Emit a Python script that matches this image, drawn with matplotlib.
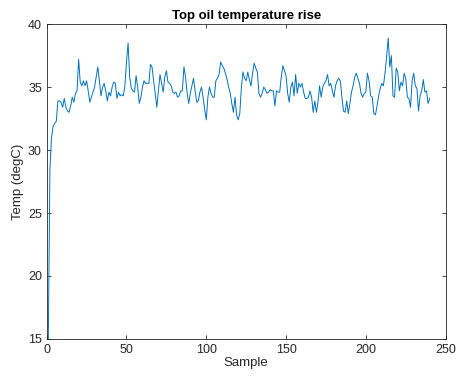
import numpy as np
import matplotlib
matplotlib.use('Agg')
import matplotlib.pyplot as plt

# top oil temperature rise, one value per sample
temp_rise = [
    15.0, 28.5, 31.0, 31.9, 32.1, 32.3, 33.9, 33.9, 33.8, 33.4,
    34.1, 33.4, 33.1, 33.0, 33.5, 34.2, 33.8, 34.5, 34.7, 37.2,
    35.4, 35.1, 35.5, 35.1, 35.5, 34.7, 33.8, 34.2, 34.6, 35.0,
    35.8, 36.6, 35.5, 34.3, 35.0, 35.3, 34.7, 33.9, 34.6, 34.3,
    35.0, 35.4, 35.3, 34.1, 34.6, 34.3, 34.4, 34.3, 35.1, 37.0,
    38.5, 35.8, 34.9, 34.7, 34.6, 35.9, 35.0, 33.7, 34.2, 35.0,
    35.5, 35.3, 35.3, 35.3, 36.8, 36.6, 35.5, 34.5, 33.4, 34.7,
    36.0, 35.3, 34.6, 35.8, 36.3, 35.4, 35.3, 35.1, 34.6, 34.5,
    34.6, 34.2, 34.3, 34.7, 34.7, 36.6, 35.8, 34.5, 33.7, 34.5,
    35.1, 35.7, 34.7, 33.8, 33.9, 34.6, 35.0, 34.2, 33.2, 32.4,
    34.2, 35.0, 34.5, 34.2, 34.2, 35.5, 35.7, 36.0, 37.0, 36.7,
    36.5, 36.1, 35.6, 35.0, 34.5, 33.7, 33.0, 34.2, 32.8, 32.4,
    32.9, 35.0, 36.2, 35.7, 35.5, 36.2, 35.6, 35.1, 36.1, 36.9,
    36.5, 36.2, 34.5, 34.2, 34.5, 35.0, 34.8, 34.5, 34.6, 34.8,
    34.7, 34.7, 33.5, 34.7, 34.6, 34.6, 35.8, 36.7, 36.3, 35.9,
    34.5, 33.8, 35.0, 35.4, 34.3, 36.0, 34.5, 35.3, 35.0, 35.3,
    34.6, 34.1, 34.1, 34.2, 34.7, 34.2, 33.0, 33.9, 33.0, 33.8,
    35.1, 34.2, 35.0, 35.3, 35.5, 36.0, 35.1, 35.3, 34.7, 34.2,
    35.1, 35.5, 35.7, 35.5, 34.2, 33.1, 33.0, 33.9, 32.9, 33.7,
    34.6, 35.1, 35.8, 36.1, 35.7, 35.3, 34.5, 34.2, 34.5, 34.6,
    36.1, 35.5, 34.3, 34.2, 32.9, 32.8, 33.5, 34.3, 34.9, 35.3,
    35.1, 36.1, 37.4, 38.9, 36.6, 37.5, 34.3, 34.2, 36.5, 36.2,
    34.7, 35.4, 35.1, 36.1, 35.7, 34.2, 34.1, 33.4, 35.5, 36.1,
    35.1, 34.9, 33.1, 34.3, 34.7, 35.6, 34.6, 34.7, 33.7, 34.1,
]
sample = np.arange(1, len(temp_rise) + 1)

plt.rcParams['font.family'] = ['Liberation Sans', 'DejaVu Sans']

fig = plt.figure(figsize=(4.58, 3.83), dpi=100)
ax = fig.add_axes([0.102, 0.115, 0.871, 0.822])

ax.plot(sample, temp_rise, color='#0072BD', linewidth=0.7)

ax.set_xlim(0, 250)
ax.set_ylim(15, 40)
ax.set_xticks([0, 50, 100, 150, 200, 250])
ax.set_yticks([15, 20, 25, 30, 35, 40])

ax.tick_params(direction='in', length=3, width=0.6, colors='0.15',
               labelsize=9, top=True, right=True)
for s in ax.spines.values():
    s.set_color('0.15')
    s.set_linewidth(0.6)

ax.set_title('Top oil temperature rise', fontsize=9.5, fontweight='bold', pad=4)
ax.set_xlabel('Sample', fontsize=9.5, color='0.15', labelpad=1)
ax.set_ylabel('Temp (degC)', fontsize=9.5, color='0.15', labelpad=3)

fig.savefig('out.png', dpi=100)
